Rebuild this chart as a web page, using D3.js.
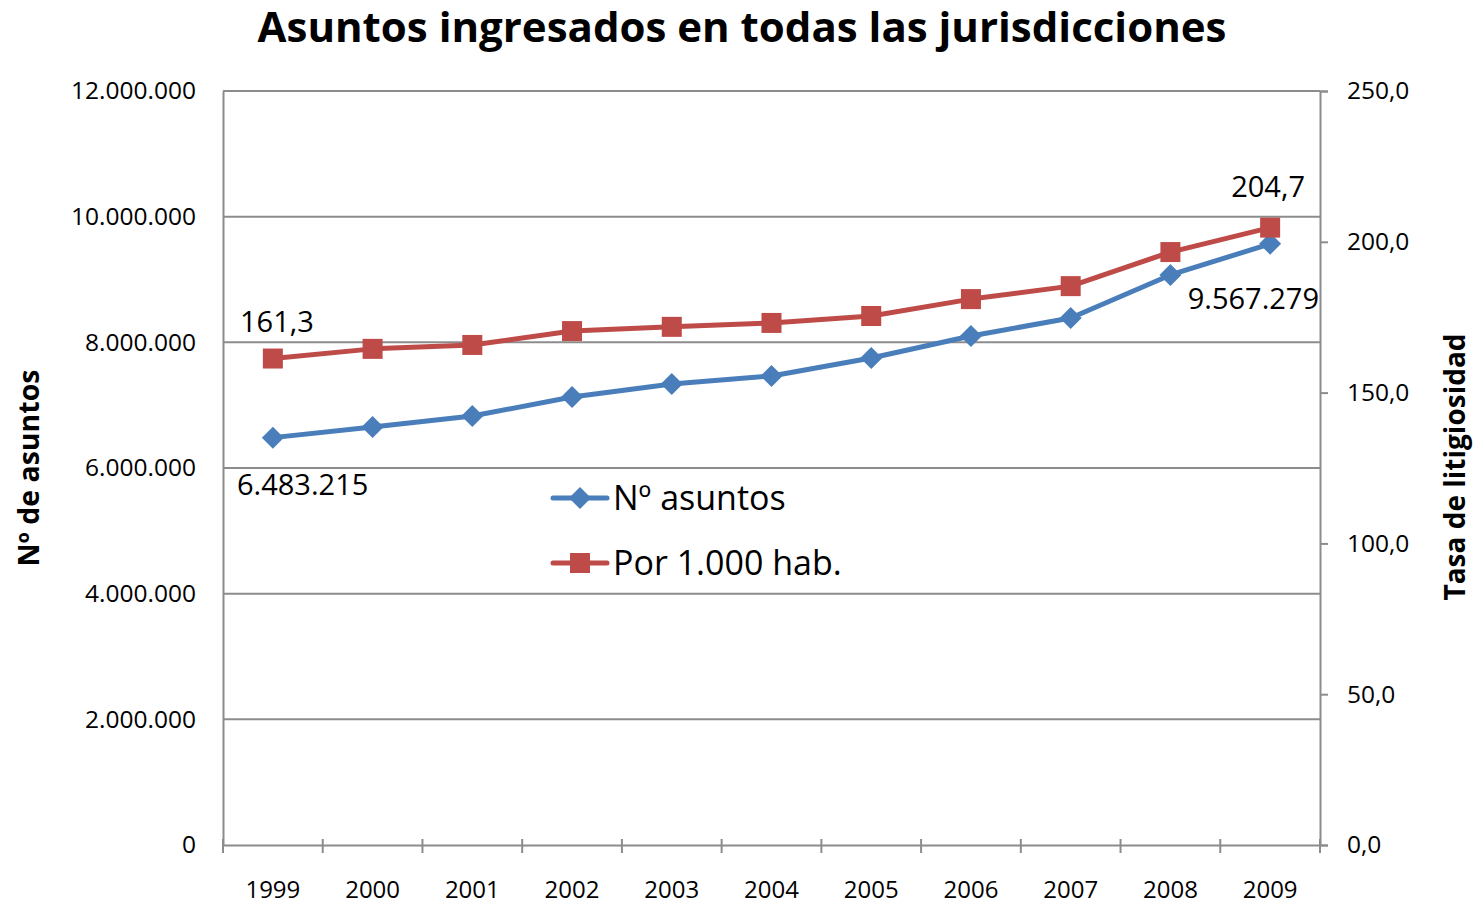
<!DOCTYPE html>
<html><head><meta charset="utf-8">
<script src="https://cdn.jsdelivr.net/npm/d3@7"></script>
<style>body{margin:0;background:#fff}svg{display:block}text{font-family:"Open Sans",sans-serif}</style>
</head><body>
<svg id="c" width="1480" height="904"></svg>
<script>
const years = ["1999","2000","2001","2002","2003","2004","2005","2006","2007","2008","2009"];
const asuntos = [6483215,6652000,6828000,7130000,7337000,7464000,7751000,8101000,8387000,9072000,9567279];
const tasa = [161.3,164.5,165.8,170.4,171.8,173.1,175.4,181.0,185.3,196.6,204.7];
const leftTicks = [0,2000000,4000000,6000000,8000000,10000000,12000000];
const rightTicks = [0,50,100,150,200,250];
const seriesNames = ["Nº asuntos","Por 1.000 hab."];

const FONT = "Open Sans";
const svg = d3.select("#c");
const L=223,R=1320,T=91,B=845;
const blue="#4A7EBB", red="#BE4B48", grid="#8c8c8c";
const x = d3.scaleBand().domain(years).range([L,R]);
const yL = d3.scaleLinear().domain([0,12000000]).range([B,T]);
const yR = d3.scaleLinear().domain([0,250]).range([B,T]);
const fmtL = v => v===0?"0":d3.format(",")(v).replace(/,/g,".");
const fmtR = v => d3.format(".1f")(v).replace(".",",");

// gridlines
svg.append("g").selectAll("line").data(leftTicks.filter(d=>d>0)).join("line")
  .attr("x1",L).attr("x2",R).attr("y1",d=>yL(d)).attr("y2",d=>yL(d))
  .attr("stroke",grid).attr("stroke-width",2);

// left axis
const gl = svg.append("g").attr("transform",`translate(${L},0)`)
  .call(d3.axisLeft(yL).tickValues(leftTicks).tickFormat(fmtL).tickSize(0).tickPadding(27));
gl.select(".domain").attr("stroke",grid).attr("stroke-width",2);
gl.selectAll("text").attr("font-size",24.5).attr("fill","#000").attr("font-family",FONT);

// right axis
const gr = svg.append("g").attr("transform",`translate(${R},0)`)
  .call(d3.axisRight(yR).tickValues(rightTicks).tickFormat(fmtR).tickSize(8).tickPadding(19));
gr.select(".domain").attr("stroke",grid).attr("stroke-width",2);
gr.selectAll(".tick line").attr("stroke",grid).attr("stroke-width",2);
gr.selectAll("text").attr("font-size",24.5).attr("fill","#000").attr("font-family",FONT);

// bottom axis
const gb = svg.append("g").attr("transform",`translate(0,${B})`)
  .call(d3.axisBottom(x).tickSize(0).tickPadding(36));
gb.select(".domain").attr("stroke",grid).attr("stroke-width",2);
gb.selectAll("text").attr("font-size",24).attr("fill","#000").attr("font-family",FONT);
gb.append("g").selectAll("line").data(years.concat(["end"])).join("line")
  .attr("x1",(d,i)=>L+i*x.step()).attr("x2",(d,i)=>L+i*x.step())
  .attr("y1",-6).attr("y2",8).attr("stroke",grid).attr("stroke-width",2);

const cx = d => x(d)+x.bandwidth()/2;

// blue series
svg.append("path").datum(asuntos)
  .attr("d",d3.line().x((d,i)=>cx(years[i])).y(d=>yL(d)))
  .attr("fill","none").attr("stroke",blue).attr("stroke-width",5).attr("stroke-linejoin","round");
const diamond = s => `M0,${-s}L${s},0L0,${s}L${-s},0Z`;
svg.append("g").selectAll("path").data(asuntos).join("path")
  .attr("transform",(d,i)=>`translate(${cx(years[i])},${yL(d)})`)
  .attr("d",diamond(11)).attr("fill",blue);

// red series
svg.append("path").datum(tasa)
  .attr("d",d3.line().x((d,i)=>cx(years[i])).y(d=>yR(d)))
  .attr("fill","none").attr("stroke",red).attr("stroke-width",5).attr("stroke-linejoin","round");
svg.append("g").selectAll("rect").data(tasa).join("rect")
  .attr("x",(d,i)=>cx(years[i])-10).attr("y",d=>yR(d)-10)
  .attr("width",20).attr("height",20).attr("fill",red);

// data labels
const last = years.length-1;
svg.append("text").attr("x",240).attr("y",yR(tasa[0])-27).attr("font-size",29).text(fmtR(tasa[0]));
svg.append("text").attr("x",237).attr("y",yL(asuntos[0])+57).attr("font-size",29).text(fmtL(asuntos[0]));
svg.append("text").attr("x",1305).attr("y",yR(tasa[last])-31).attr("font-size",29).attr("text-anchor","end").text(fmtR(tasa[last]));
svg.append("text").attr("x",1319).attr("y",yL(asuntos[last])+65).attr("font-size",29).attr("text-anchor","end").text(fmtL(asuntos[last]));

// legend
const lg = svg.append("g");
[[blue,498,"d"],[red,563,"s"]].forEach((e,i)=>{
  lg.append("line").attr("x1",553).attr("x2",607).attr("y1",e[1]).attr("y2",e[1])
    .attr("stroke",e[0]).attr("stroke-width",5).attr("stroke-linecap","round");
  if(e[2]==="d") lg.append("path").attr("transform",`translate(580,${e[1]})`).attr("d",diamond(11)).attr("fill",e[0]);
  else lg.append("rect").attr("x",570).attr("y",e[1]-10).attr("width",20).attr("height",20).attr("fill",e[0]);
  lg.append("text").attr("x",613).attr("y",e[1]+12).attr("font-size",34).text(seriesNames[i]);
});

// titles
svg.append("text").attr("x",742).attr("y",42).attr("text-anchor","middle")
  .attr("font-size",42).attr("font-weight","bold").text("Asuntos ingresados en todas las jurisdicciones");
svg.append("text").attr("transform","translate(39,468) rotate(-90)").attr("text-anchor","middle")
  .attr("font-size",28.5).attr("font-weight","bold").text("Nº de asuntos");
svg.append("text").attr("transform","translate(1465,467) rotate(-90)").attr("text-anchor","middle")
  .attr("font-size",28).attr("font-weight","bold").text("Tasa de litigiosidad");
</script>
</body></html>
